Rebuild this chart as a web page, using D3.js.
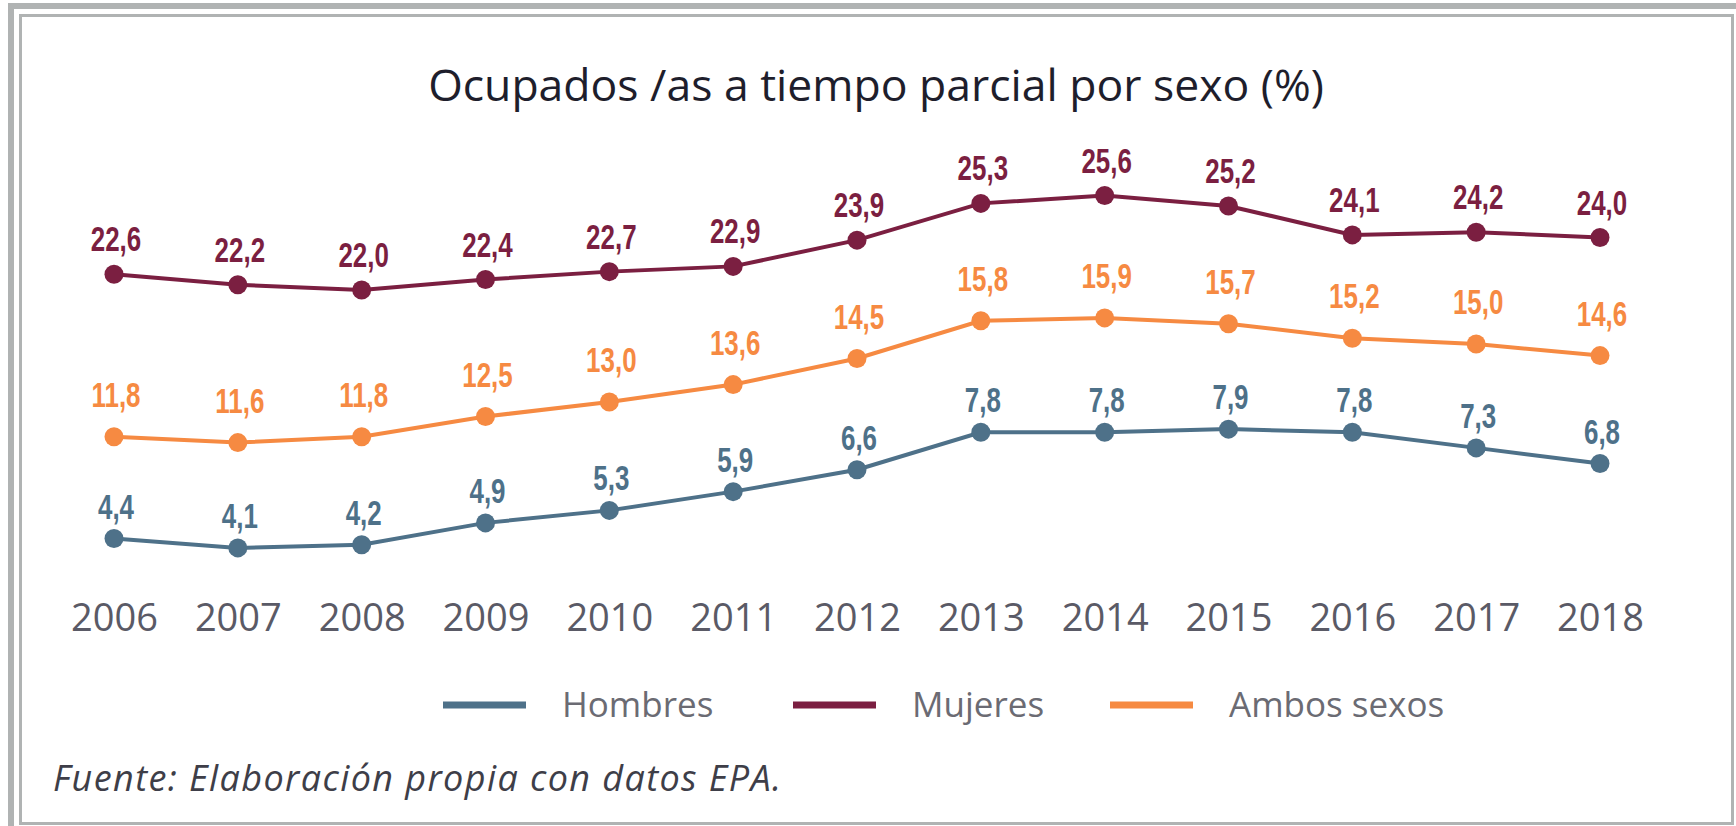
<!DOCTYPE html>
<html>
<head>
<meta charset="utf-8">
<script src="https://cdn.jsdelivr.net/npm/d3@7"></script>
<style>
    html, body { margin: 0; padding: 0; background: #fff; }
    svg { display: block; }
</style>
</head>
<body>
<div id="chart"></div>
<script>
// data
const years = ["2006", "2007", "2008", "2009", "2010", "2011", "2012", "2013", "2014", "2015", "2016", "2017", "2018"];
const hombres = [4.4, 4.1, 4.2, 4.9, 5.3, 5.9, 6.6, 7.8, 7.8, 7.9, 7.8, 7.3, 6.8];
const mujeres = [22.6, 22.2, 22.0, 22.4, 22.7, 22.9, 23.9, 25.3, 25.6, 25.2, 24.1, 24.2, 24.0];
const ambos = [11.8, 11.6, 11.8, 12.5, 13.0, 13.6, 14.5, 15.8, 15.9, 15.7, 15.2, 15.0, 14.6];
const seriesNames = ["Hombres", "Mujeres", "Ambos sexos"];

const width = 1736, height = 826;

const svg = d3.select("#chart")
    .append("svg")
    .attr("width", width)
    .attr("height", height);

// frame: thick outer band + thin inner line (the outer one runs off the right / bottom edge)
svg.append("rect")
    .attr("x", 11).attr("y", 6)
    .attr("width", 1800).attr("height", 900)
    .attr("fill", "none")
    .attr("stroke", "#b0b3b3")
    .attr("stroke-width", 6);
svg.append("rect")
    .attr("x", 20.5).attr("y", 15.5)
    .attr("width", 1712).attr("height", 808)
    .attr("fill", "none")
    .attr("stroke", "#b0b3b3")
    .attr("stroke-width", 3);

svg.append("text")
    .attr("x", 876)
    .attr("y", 101)
    .attr("text-anchor", "middle")
    .attr("font-family", "'Open Sans', sans-serif")
    .attr("font-size", 44.5)
    .attr("font-weight", 500)
    .attr("fill", "#1e1e2c")
    .text("Ocupados /as a tiempo parcial por sexo (%)");

var x = d3.scalePoint()
    .domain(years)
    .range([114, 1600]);

// the original graphic does not share one y axis: every series sits in its own band
var series = [
    {name: seriesNames[0], values: hombres, color: "#4e7189", labelGap: 20,
        y: d3.scaleLinear().domain([4, 8]).range([551, 426])},
    {name: seriesNames[1], values: mujeres, color: "#7b1f41", labelGap: 23,
        y: d3.scaleLinear().domain([22, 26]).range([290, 185])},
    {name: seriesNames[2], values: ambos, color: "#f68a42", labelGap: 30,
        y: d3.scaleLinear().domain([11, 16]).range([460, 315])}
];

var es = d3.formatLocale({decimal: ",", thousands: ".", grouping: [3], currency: ["", "€"]});
var fmt = es.format(".1f");

series.forEach(function (s) {
    var pts = s.values.map(function (v, i) {
        return {year: years[i], value: v};
    });

    var line = d3.line()
        .x(function (d) { return x(d.year); })
        .y(function (d) { return s.y(d.value); });

    svg.append("path")
        .datum(pts)
        .attr("d", line)
        .attr("fill", "none")
        .attr("stroke", s.color)
        .attr("stroke-width", 4);

    svg.append("g")
        .selectAll("circle")
        .data(pts)
        .enter()
        .append("circle")
        .attr("cx", function (d) { return x(d.year); })
        .attr("cy", function (d) { return s.y(d.value); })
        .attr("r", 9.5)
        .attr("fill", s.color);

    // value labels: narrow, tall figures -> squeeze a normal bold face horizontally
    svg.append("g")
        .selectAll("text")
        .data(pts)
        .enter()
        .append("text")
        .attr("transform", function (d) {
            return "translate(" + (x(d.year) + 2) + "," + (s.y(d.value) - s.labelGap) + ") scale(0.72,1)";
        })
        .attr("text-anchor", "middle")
        .attr("font-family", "'Liberation Sans', Arial, sans-serif")
        .attr("font-weight", "bold")
        .attr("font-size", 36)
        .attr("fill", s.color)
        .text(function (d) { return fmt(d.value); });
});

// year labels along the bottom, no axis line or ticks
var xAxis = svg.append("g")
    .attr("transform", "translate(0,600)")
    .call(d3.axisBottom(x).tickSize(0).tickPadding(0));
xAxis.select(".domain").remove();
xAxis.selectAll("text")
    .attr("dy", 0)
    .attr("y", 31)
    .attr("font-family", "'Open Sans', sans-serif")
    .attr("font-size", 38)
    .attr("fill", "#5a5a66");

// legend
var legendX = [443, 793, 1110];
var legend = svg.append("g")
    .selectAll("g")
    .data(series)
    .enter()
    .append("g")
    .attr("transform", function (d, i) { return "translate(" + legendX[i] + ",705)"; });

legend.append("rect")
    .attr("x", 0).attr("y", -3.5)
    .attr("width", 83).attr("height", 7)
    .attr("fill", function (d) { return d.color; });

legend.append("text")
    .attr("x", 119)
    .attr("y", 12)
    .attr("font-family", "'Open Sans', sans-serif")
    .attr("font-size", 35)
    .attr("fill", "#6b6b73")
    .text(function (d) { return d.name; });

svg.append("text")
    .attr("x", 53)
    .attr("y", 791)
    .attr("font-family", "'Open Sans', sans-serif")
    .attr("font-style", "italic")
    .attr("font-size", 36)
    .attr("letter-spacing", 1.4)
    .attr("fill", "#3e3e48")
    .text("Fuente: Elaboración propia con datos EPA.");
</script>
</body>
</html>
